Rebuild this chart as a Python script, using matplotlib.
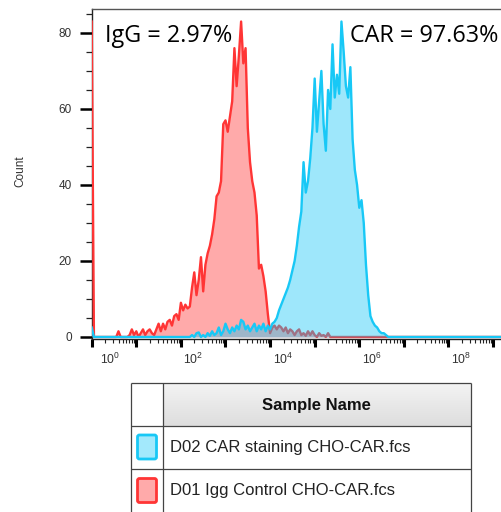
import numpy as np
import matplotlib
matplotlib.use("Agg")
import matplotlib.pyplot as plt
from matplotlib.patches import FancyBboxPatch
from matplotlib.ticker import FixedLocator, FixedFormatter
from matplotlib.transforms import ScaledTranslation

plt.rcParams['font.family'] = ['Liberation Sans', 'DejaVu Sans']
plt.rcParams['mathtext.fontset'] = 'custom'
plt.rcParams['mathtext.rm'] = 'Liberation Sans'
plt.rcParams['mathtext.it'] = 'Liberation Sans:italic'
plt.rcParams['mathtext.bf'] = 'Liberation Sans:bold'

# Histogram channels: log10 of fluorescence, one bin every LOG_STEP decades
LOG_START = 0.0
LOG_STEP = 0.05
LOG_END = 9.2

# D01 IgG isotype control (counts per bin from log10 = 0.00)
igg_counts = [
    83, 0, 0, 0, 0, 0, 0, 0, 0, 0,
    0, 0, 1.5, 0, 0, 0, 0, 0.5, 2, 0.5,
    1.5, 0, 1, 2, 0.5, 1.5, 2, 1, 0.5, 2,
    3.5, 1.5, 3.5, 2, 4, 4.5, 3, 5.5, 6, 4.5,
    9, 7, 8.5, 7.5, 8, 13, 17, 11, 15, 21,
    12, 19, 22, 24, 27, 31, 37, 38, 41, 56,
    57, 54, 58, 62, 76, 66, 74, 83, 72, 76,
    55, 46, 41, 38, 32, 18, 19, 16, 12, 6,
    1, 2.5, 3, 2, 3, 2.5, 1.5, 2.5, 1, 2,
    1.5, 0.5, 1.5, 2, 0.5, 1, 0.3, 1.5, 0.5, 1.5,
    0.5, 0, 1, 0.3, 0.5, 0, 1, 0, 0,
]

# D02 CAR staining (counts per bin from log10 = 0.00)
car_counts = [2.5] + [0] * 44 + [
    0.5, 0, 1, 1.2, 0, 0.5, 0, 1, 0.3, 1.5,
    0.5, 1, 2.5, 0.5, 1.5, 3.5, 2, 1, 2.5, 1.5,
    3, 2, 4.5, 4, 2, 3, 1.5, 2.5, 3.5, 1.5,
    3, 2, 3.5, 1.5, 3, 2, 3.5, 4, 5, 7,
    8.5, 10, 11.5, 13, 15, 17.5, 20, 24, 29, 33,
    46, 38, 41, 47, 55, 68, 54, 62, 70, 56,
    49, 65, 60, 77, 63, 69, 64, 83, 75, 66,
    63, 71, 52, 44, 40, 34, 36, 30, 19, 11,
    5.5, 4, 3, 2.5, 1.5, 1, 1, 0.5, 0, 0,
]

y_major = [0, 20, 40, 60, 80]
decade_exponents = list(range(0, 10))
labelled_exponents = [0, 2, 4, 6, 8]
sample_names = ["D02 CAR staining CHO-CAR.fcs", "D01 Igg Control CHO-CAR.fcs"]
stat_labels = ["IgG = 2.97%", "CAR = 97.63%"]

RED = '#FF3535'
BLUE = '#18C8F6'

n_bins = int(round((LOG_END - LOG_START) / LOG_STEP)) + 1
log_x = LOG_START + LOG_STEP * np.arange(n_bins)
x = 10.0 ** log_x


def padded(values):
    arr = np.zeros(n_bins)
    arr[:len(values)] = values
    return arr


igg = padded(igg_counts)
car = padded(car_counts)

W, H = 502, 512
fig = plt.figure(figsize=(W / 100, H / 100), dpi=100)
fig.patch.set_facecolor('white')

ax_l, ax_r, ax_t, ax_b = 91.7, 502.0, 9.0, 338.5
ax = fig.add_axes([ax_l / W, 1 - ax_b / H, (ax_r - ax_l) / W, (ax_b - ax_t) / H])
ax.set_xscale('log')
ax.set_xlim(10 ** LOG_START, 10 ** LOG_END)
ax.set_ylim(-0.4, 86.3)

ax.fill_between(x, igg, 0, color=RED, alpha=0.42, lw=0, zorder=2)
ax.plot(x, igg, color=RED, lw=1.7, zorder=3)
ax.fill_between(x, car, 0, color=BLUE, alpha=0.42, lw=0, zorder=4)
ax.plot(x, car, color=BLUE, lw=1.7, zorder=5)

ax.spines['right'].set_visible(False)
ax.spines['top'].set_color('#555555')
ax.spines['top'].set_linewidth(1.0)
for side in ('left', 'bottom'):
    ax.spines[side].set_color('#222222')
    ax.spines[side].set_linewidth(1.0)

# y axis: majors every 20, minors every 5
ax.yaxis.set_major_locator(FixedLocator(y_major))
ax.yaxis.set_minor_locator(FixedLocator(np.arange(0, 86, 5)))
ax.tick_params(axis='y', which='major', direction='out', length=8.4, width=1.8,
               color='black', labelsize=8.5, pad=6, labelcolor='#333333')
ax.tick_params(axis='y', which='minor', direction='out', length=4.2, width=0.9,
               color='#222222')

# x axis: decades, labelled every second decade
ax.xaxis.set_major_locator(FixedLocator([10.0 ** k for k in decade_exponents]))
ax.xaxis.set_major_formatter(FixedFormatter(
    [f"$10^{{{k}}}$" if k in labelled_exponents else "" for k in decade_exponents]))
ax.xaxis.set_minor_locator(FixedLocator(
    [m * 10.0 ** k for k in decade_exponents for m in range(2, 10)]))
ax.tick_params(axis='x', which='major', direction='out', length=5.5, width=2.2,
               color='black', labelsize=8.8, pad=4, labelcolor='#333333')
ax.tick_params(axis='x', which='minor', direction='out', length=3, width=0.8,
               color='#222222')
for i, lab in enumerate(ax.get_xticklabels()):
    lab.set_horizontalalignment('left')
    shift = 8 if i == 0 else 2.5
    lab.set_transform(lab.get_transform() + ScaledTranslation(shift / 100, 0, fig.dpi_scale_trans))

fig.text(20 / W, 1 - 171.5 / H, 'Count', rotation=90, ha='center', va='center',
         fontsize=8.5, color='#333333')

fig.text(105 / W, 1 - 42 / H, stat_labels[0], family='Open Sans', fontsize=16.8,
         ha='left', va='baseline', color='black')
fig.text(498 / W, 1 - 42 / H, stat_labels[1], family='Open Sans', fontsize=16.8,
         ha='right', va='baseline', color='black')

# Sample legend table, laid out in pixel coordinates
tab = fig.add_axes([0, 0, 1, 1])
tab.patch.set_visible(False)
tab.axis('off')

L, C, R = 130.7, 163.0, 470.7
T, H1, H2, B = 383.0, 426.0, 469.0, 514.0

grad = np.linspace(243, 222, 40)[:, None, None] * np.ones((1, 1, 3)) / 255.0
tab.imshow(grad, extent=(C, R, H1, T), aspect='auto', interpolation='bilinear', zorder=1)

line_kw = dict(color='#444444', lw=0.9, zorder=2, solid_capstyle='butt')
for xv in (L, C, R):
    tab.plot([xv, xv], [T, B], **line_kw)
for yv in (T, H1, H2):
    tab.plot([L, R], [yv, yv], **line_kw)

tab.text((C + R) / 2, 405.5, 'Sample Name', ha='center', va='center',
         fontsize=12, fontweight='bold', color='#111111', zorder=3)

row_centers = [447.5, 491.0]
swatch_fill = ['#A3E9FC', '#FFAAAA']
swatch_edge = [BLUE, RED]
for name, yc, fc, ec in zip(sample_names, row_centers, swatch_fill, swatch_edge):
    tab.add_patch(FancyBboxPatch((137.5, yc - 12.5), 19, 24,
                                 boxstyle='round,pad=0,rounding_size=2',
                                 fc=fc, ec=ec, lw=2.0, zorder=3))
    tab.text(170, yc, name, ha='left', va='center', fontsize=12,
             color='#222222', zorder=3)

tab.set_xlim(0, W)
tab.set_ylim(H, 0)

fig.savefig('out.png', dpi=100)
